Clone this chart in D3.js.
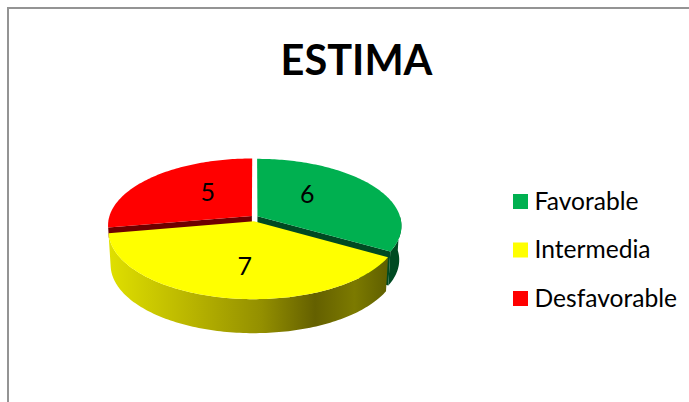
<!DOCTYPE html>
<html>
<head>
<meta charset="utf-8">
<script src="https://cdn.jsdelivr.net/npm/d3@7"></script>
<style>
  body { margin: 0; background: #fff; }
  text { font-family: Lato, "Open Sans", sans-serif; fill: #000; }
</style>
</head>
<body>
<svg id="chart"></svg>
<script>
const categories = ["Favorable", "Intermedia", "Desfavorable"];
const values = [6, 7, 5];
const title = "ESTIMA";

const width = 689;
const height = 402;

// top colour, dark colour for the inner walls
const colors = ["#00b050", "#ffff00", "#ff0000"];
const darks = ["#004a22", "#6b6b00", "#6e0000"];

// pie "3d" settings
const cx = 254.5;
const cy = 218;
const rx = 143;
const ry = 66;
const persp = 0.14;   // front of the disc is bigger than the back
const depth = 34;
const explodeX = 0.024;
const explodeY = 0.05;

const svg = d3.select('#chart')
  .attr('width', width)
  .attr('height', height)
  .style('display', 'block');

const defs = svg.append('defs');

// shading on the yellow rim
const rimGrad = defs.append('linearGradient')
  .attr('id', 'rimYellow')
  .attr('gradientUnits', 'userSpaceOnUse')
  .attr('x1', 108).attr('x2', 388).attr('y1', 0).attr('y2', 0);
[[0, '#e0e000'], [0.3, '#b8b400'], [0.55, '#938f00'], [0.74, '#646000'], [0.88, '#7c7a00'], [1, '#5f5f00']]
  .forEach(([o, c]) => rimGrad.append('stop').attr('offset', o).attr('stop-color', c));

// frame (only left and top are visible)
svg.append('path')
  .attr('d', `M8,${height}V8H${width}`)
  .attr('fill', 'none')
  .attr('stroke', '#949494')
  .attr('stroke-width', 2);

svg.append('text')
  .attr('x', 356.5)
  .attr('y', 75)
  .attr('text-anchor', 'middle')
  .style('font-size', '41.5px')
  .style('font-weight', '700')
  .text(title);

const pie = d3.pie().sort(null).value(d => d);
const slices = pie(values).map((d, i) => {
  const mid = (d.startAngle + d.endAngle) / 2;
  return { ...d, i, mid, ox: Math.sin(mid) * explodeX, oy: -Math.cos(mid) * explodeY };
});

// a point of the unit disc to the screen, drop 0 = top face, 1 = bottom face
function project(u, v, drop) {
  const k = 1 / (1 - persp * v);
  const s = 1 - 0.015 * drop;
  return [cx + rx * u * k * s, cy + ry * v * k + depth * drop];
}

function rimPoint(s, a, r, drop) {
  return project(s.ox + Math.sin(a) * r, s.oy - Math.cos(a) * r, drop);
}

function arcPoints(s, a0, a1, drop) {
  const n = Math.max(2, Math.ceil((a1 - a0) / 0.02));
  return d3.range(n + 1).map(j => rimPoint(s, a0 + (a1 - a0) * j / n, 1, drop));
}

const line = d3.line();
const closed = pts => line(pts) + 'Z';

function topPath(s) {
  return closed([rimPoint(s, 0, 0, 0), ...arcPoints(s, s.startAngle, s.endAngle, 0)]);
}

function rimPath(s, a0, a1) {
  return closed([...arcPoints(s, a0, a1, 0), ...arcPoints(s, a0, a1, 1).reverse()]);
}

// flat wall along a cut edge of a slice
function cutPath(s, a, drop) {
  return closed([
    rimPoint(s, a, 0, 0), rimPoint(s, a, 1, 0),
    rimPoint(s, a, 1, drop), rimPoint(s, a, 0, drop)
  ]);
}

const layer = svg.append('g');
const [green, yellow, red] = slices;

// back to front
layer.append('path').attr('d', cutPath(red, red.startAngle, 0.3)).attr('fill', darks[2]);
layer.append('path').attr('d', topPath(red)).attr('fill', colors[2]);

layer.append('path').attr('d', rimPath(green, Math.PI / 2, green.endAngle)).attr('fill', darks[0]);
layer.append('path').attr('d', cutPath(green, green.endAngle, 1)).attr('fill', darks[0]);
layer.append('path').attr('d', topPath(green)).attr('fill', colors[0]);

layer.append('path').attr('d', rimPath(yellow, yellow.startAngle, yellow.endAngle)).attr('fill', 'url(#rimYellow)');
layer.append('path').attr('d', topPath(yellow)).attr('fill', colors[1]);

// value labels, nudged to where they sit in the original
const labelNudge = [[-4, -8], [3, 13], [3, -5]];
svg.append('g').selectAll('text')
  .data(slices)
  .enter()
  .append('text')
  .attr('x', d => rimPoint(d, d.mid, 0.45, 0)[0] + labelNudge[d.i][0])
  .attr('y', d => rimPoint(d, d.mid, 0.45, 0)[1] + labelNudge[d.i][1])
  .attr('text-anchor', 'middle')
  .attr('dy', '0.35em')
  .style('font-size', '25px')
  .text(d => d.data);

// legend
const legendY = d3.scalePoint().domain(categories).range([201.5, 298.5]);
const legend = svg.append('g').selectAll('g')
  .data(categories)
  .enter()
  .append('g')
  .attr('transform', d => `translate(513,${legendY(d)})`);

legend.append('rect')
  .attr('y', -7.5)
  .attr('width', 15)
  .attr('height', 15)
  .attr('fill', (d, i) => colors[i]);

legend.append('text')
  .attr('x', 21.5)
  .attr('y', 8)
  .style('font-size', '24.6px')
  .text(d => d);
</script>
</body>
</html>
